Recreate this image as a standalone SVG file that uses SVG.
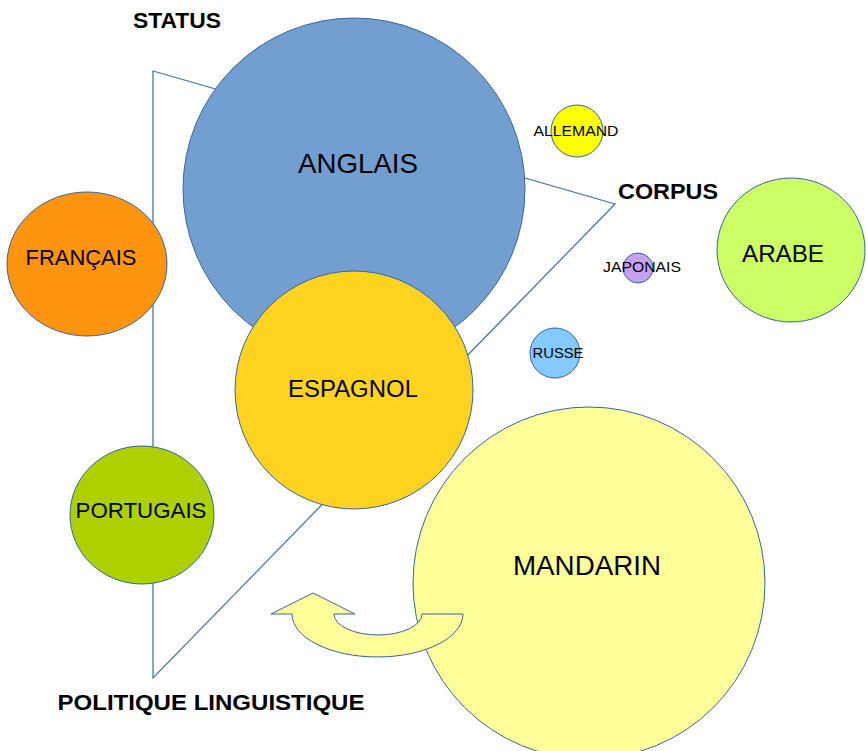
<svg xmlns="http://www.w3.org/2000/svg" width="866" height="751" viewBox="0 0 866 751">
<style>
.n{stroke:#3465a4;stroke-width:1}
.t{font-family:"Liberation Sans",Arial,sans-serif;fill:#000;text-anchor:middle}
.h{font-family:"Liberation Sans",Arial,sans-serif;font-weight:bold;fill:#000;text-anchor:middle}
.c{fill:none;stroke:#4a76b0;stroke-width:1.3}
</style>
<rect width="866" height="751" fill="#fff"/>
<g id="connectors">
<polygon class="c" points="153,71 615,204 153,678"/>
</g>
<g id="anglais"><circle class="n" cx="354" cy="189" r="171" fill="#729fcf"/><text class="t" x="358" y="173" font-size="28" textLength="120" lengthAdjust="spacingAndGlyphs">ANGLAIS</text></g>
<g id="francais"><ellipse class="n" cx="87" cy="264" rx="80" ry="72" fill="#ff950e"/><text class="t" x="81" y="265" font-size="22" textLength="111" lengthAdjust="spacingAndGlyphs">FRANÇAIS</text></g>
<g id="espagnol"><circle class="n" cx="354" cy="390" r="119" fill="#ffd320"/><text class="t" x="353" y="397" font-size="23" textLength="130" lengthAdjust="spacingAndGlyphs">ESPAGNOL</text></g>
<g id="portugais"><ellipse class="n" cx="142" cy="515" rx="72" ry="69" fill="#aecf00"/><text class="t" x="141" y="518" font-size="22" textLength="131" lengthAdjust="spacingAndGlyphs">PORTUGAIS</text></g>
<g id="allemand"><circle class="n" cx="577" cy="131" r="26" fill="#ffff00"/><text class="t" x="576" y="136" font-size="15" textLength="85" lengthAdjust="spacingAndGlyphs">ALLEMAND</text></g>
<g id="japonais"><circle class="n" cx="638" cy="268" r="15" fill="#c8a0f0"/><text class="t" x="642" y="272" font-size="15" textLength="78" lengthAdjust="spacingAndGlyphs">JAPONAIS</text></g>
<g id="russe"><circle class="n" cx="555" cy="353" r="25" fill="#83caff"/><text class="t" x="558" y="358" font-size="15" textLength="51" lengthAdjust="spacingAndGlyphs">RUSSE</text></g>
<g id="arabe"><ellipse class="n" cx="791" cy="250" rx="74" ry="72" fill="#ccff66"/><text class="t" x="783" y="262" font-size="24" textLength="82" lengthAdjust="spacingAndGlyphs">ARABE</text></g>
<g id="mandarin"><circle class="n" cx="589" cy="583" r="176" fill="#ffff99"/><text class="t" x="587" y="575" font-size="28" textLength="148" lengthAdjust="spacingAndGlyphs">MANDARIN</text></g>
<g id="arrow"><path class="n" fill="#ffff99" d="M463,614 A85.5,43 0 0 1 292,614 L271,614 L313,593 L355,614 L334,614 A44,21 0 0 0 422,614 Z"/></g>
<g id="status"><text class="h" x="177" y="28" font-size="22" textLength="88" lengthAdjust="spacingAndGlyphs">STATUS</text></g>
<g id="corpus"><text class="h" x="668" y="199" font-size="22" textLength="100" lengthAdjust="spacingAndGlyphs">CORPUS</text></g>
<g id="politique"><text class="h" x="211" y="710" font-size="22" textLength="307" lengthAdjust="spacingAndGlyphs">POLITIQUE LINGUISTIQUE</text></g>
</svg>
